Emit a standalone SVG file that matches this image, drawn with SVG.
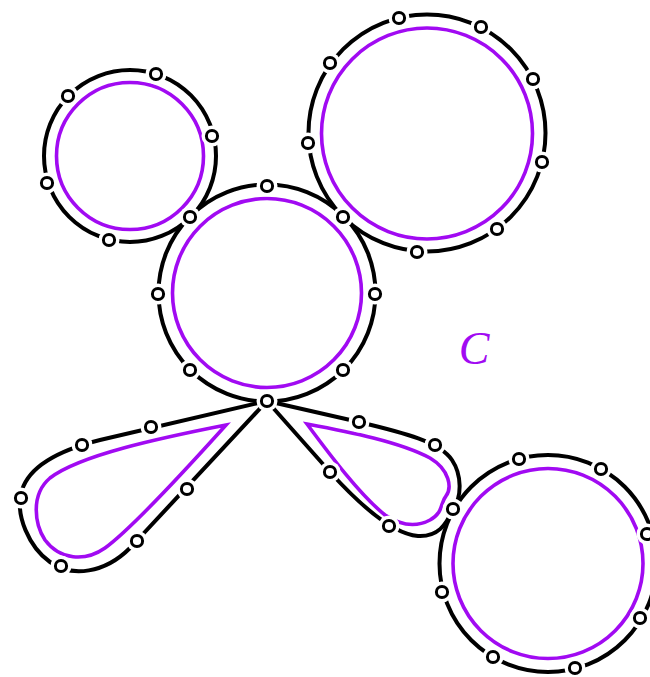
<svg xmlns="http://www.w3.org/2000/svg" xmlns:xlink="http://www.w3.org/1999/xlink" width="650" height="677" viewBox="0 0 650 677">
<style>
.p{fill:none;stroke:#a10af2;stroke-width:3.6}
.b{fill:none;stroke:#000;stroke-width:4;stroke-linejoin:round}
.halo{fill:#fff}
.ring{fill:#fff;stroke:#000;stroke-width:3}
.lbl{font-family:"Liberation Serif","DejaVu Serif",serif;font-style:italic;fill:#a10af2}
</style>
<defs>
<g id="v"><circle class="halo" r="10.5"/><circle class="ring" r="5.6"/></g>
</defs>
<rect width="650" height="677" fill="#fff"/>
<g id="connectors">
<circle class="b" cx="130" cy="156" r="86"/>
<circle class="b" cx="427" cy="133" r="118.5"/>
<circle class="b" cx="267" cy="293" r="108.5"/>
<circle class="b" cx="548" cy="563.5" r="108.5"/>
<path class="b" d="M267,401 L100,440 C60,450 30,465 22,490 C14,515 30,548 50,562 C72,578 105,573 130,548 Z"/>
<path class="b" d="M267,401 L359,422 C405,433 440,442 452,460 C462,475 462,497 453,509 C446,525 438,537 418,536 C393,534 360,505 330,472 Z"/>
</g>
<g id="regions">
<circle id="r1" class="p" cx="130" cy="156" r="73.5"/>
<circle id="r2" class="p" cx="427" cy="133.5" r="105.5"/>
<circle id="r3" class="p" cx="267" cy="293" r="94.5"/>
<circle id="r4" class="p" cx="548" cy="563.5" r="95"/>
<path id="r5" class="p" d="M226,425 C160,438 80,455 50,478 C30,495 35,525 45,540 C60,560 85,562 105,548 C130,530 190,465 226,425 Z"/>
<path id="r6" class="p" d="M307,424 C350,432 400,442 430,458 C450,470 452,488 446,496 C440,503 444,512 430,520 C415,528 400,525 385,515 C360,495 330,455 307,424 Z"/>
</g>
<g id="vertices">
<use href="#v" x="68" y="96"/><use href="#v" x="156" y="74"/><use href="#v" x="212" y="136"/><use href="#v" x="47" y="183"/><use href="#v" x="109" y="240"/><use href="#v" x="190" y="217"/>
<use href="#v" x="399" y="18"/><use href="#v" x="481" y="27"/><use href="#v" x="533" y="79"/><use href="#v" x="330" y="63"/><use href="#v" x="308" y="143"/><use href="#v" x="542" y="162"/><use href="#v" x="497" y="229"/><use href="#v" x="417" y="252"/><use href="#v" x="343" y="217"/>
<use href="#v" x="267" y="186"/><use href="#v" x="158" y="294"/><use href="#v" x="375" y="294"/><use href="#v" x="190" y="370"/><use href="#v" x="343" y="370"/><use href="#v" x="267" y="401"/>
<use href="#v" x="151" y="427"/><use href="#v" x="82" y="445"/><use href="#v" x="21" y="498"/><use href="#v" x="61" y="566"/><use href="#v" x="137" y="541"/><use href="#v" x="187" y="489"/>
<use href="#v" x="359" y="422"/><use href="#v" x="435" y="445"/><use href="#v" x="453" y="509"/><use href="#v" x="389" y="526"/><use href="#v" x="330" y="472"/>
<use href="#v" x="519" y="459"/><use href="#v" x="601" y="469"/><use href="#v" x="647" y="534"/><use href="#v" x="640" y="618"/><use href="#v" x="575" y="668"/><use href="#v" x="493" y="657"/><use href="#v" x="442" y="592"/>
</g>
<g id="label"><text class="lbl" x="474" y="364" font-size="46" text-anchor="middle">C</text></g>
</svg>
